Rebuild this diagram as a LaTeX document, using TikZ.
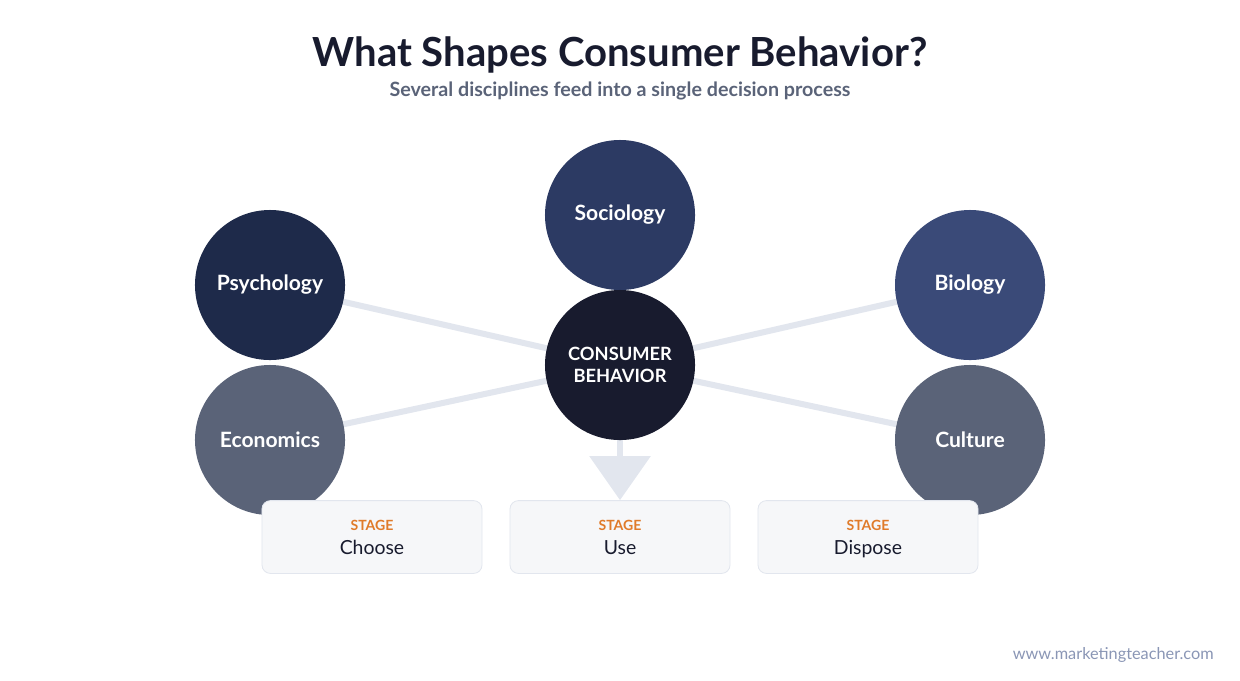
\documentclass[tikz,border=0pt]{standalone}
\usepackage{fontspec}
\setmainfont{Lato}
\usepackage{tikz}
\usetikzlibrary{positioning,backgrounds,arrows.meta}
\definecolor{cbink}{HTML}{181B2E}
\definecolor{cbslate}{HTML}{5A6378}
\definecolor{cbnavy}{HTML}{1E2A4A}
\definecolor{cbsocio}{HTML}{2C3A63}
\definecolor{cbbio}{HTML}{3A4A78}
\definecolor{cblink}{HTML}{E2E6EE}
\definecolor{cbpale}{HTML}{F6F7F9}
\definecolor{cbaccent}{HTML}{E07B2A}
\definecolor{cbfoot}{HTML}{8A96B5}
\newcommand{\stagetag}{{\fontsize{10}{12}\selectfont\bfseries\color{cbaccent}\rule{0pt}{12pt}STAGE}}

\begin{document}
\begin{tikzpicture}[x=0.025cm,y=-0.025cm,
  field/.style={circle,minimum size=3.75cm,inner sep=0pt,align=center,text=white,font=\fontsize{15}{18}\selectfont\bfseries},
  core/.style={field,fill=cbink,font=\fontsize{13}{16}\selectfont\bfseries},
  stagebox/.style={draw=cblink,fill=cbpale,rounded corners=6pt,line width=0.6pt,minimum width=5.5cm,minimum height=1.82cm,align=center,text=cbink,inner sep=0pt},
  link/.style={line width=4.3pt,color=cblink},
  flow/.style={line width=4.3pt,color=cblink,-{Triangle[width=1.5cm,length=1.1cm]}}
]
\useasboundingbox (0,0) rectangle (1240,680);

\node[font=\fontsize{28.5}{34}\selectfont\bfseries,text=cbink] (title) at (620,55) {What Shapes Consumer Behavior?};
\node[font=\fontsize{14}{17}\selectfont\bfseries,text=cbslate] (subtitle) at (620,91) {Several disciplines feed into a single decision process};

\node[field,fill=cbsocio] (socio) at (620,215) {Sociology};
\node[field,fill=cbnavy] (psych) at (270,285) {Psychology};
\node[field,fill=cbbio] (bio) at (970,285) {Biology};
\node[field,fill=cbslate] (econ) at (270,440) {Economics};
\node[field,fill=cbslate] (culture) at (970,440) {Culture};
\node[core] (consumer) at (620,365) {CONSUMER\\BEHAVIOR};

\node[stagebox] (choose) at (372,537) {\stagetag\\[5pt]{\fontsize{13.8}{16}\selectfont\strut Choose}};
\node[stagebox] (use) at (620,537) {\stagetag\\[5pt]{\fontsize{13.8}{16}\selectfont\strut Use}};
\node[stagebox] (dispose) at (868,537) {\stagetag\\[5pt]{\fontsize{13.8}{16}\selectfont\strut Dispose}};

\node[font=\fontsize{11.6}{14}\selectfont,text=cbfoot,anchor=east,inner sep=0pt] (site) at (1214,655) {www.marketingteacher.com};

\begin{scope}[on background layer]
\draw[link] (psych) -- (consumer);
\draw[link] (econ) -- (consumer);
\draw[link] (bio) -- (consumer);
\draw[link] (culture) -- (consumer);
\draw[flow] (consumer.south) -- (use.north);
\end{scope}
\end{tikzpicture}
\end{document}
